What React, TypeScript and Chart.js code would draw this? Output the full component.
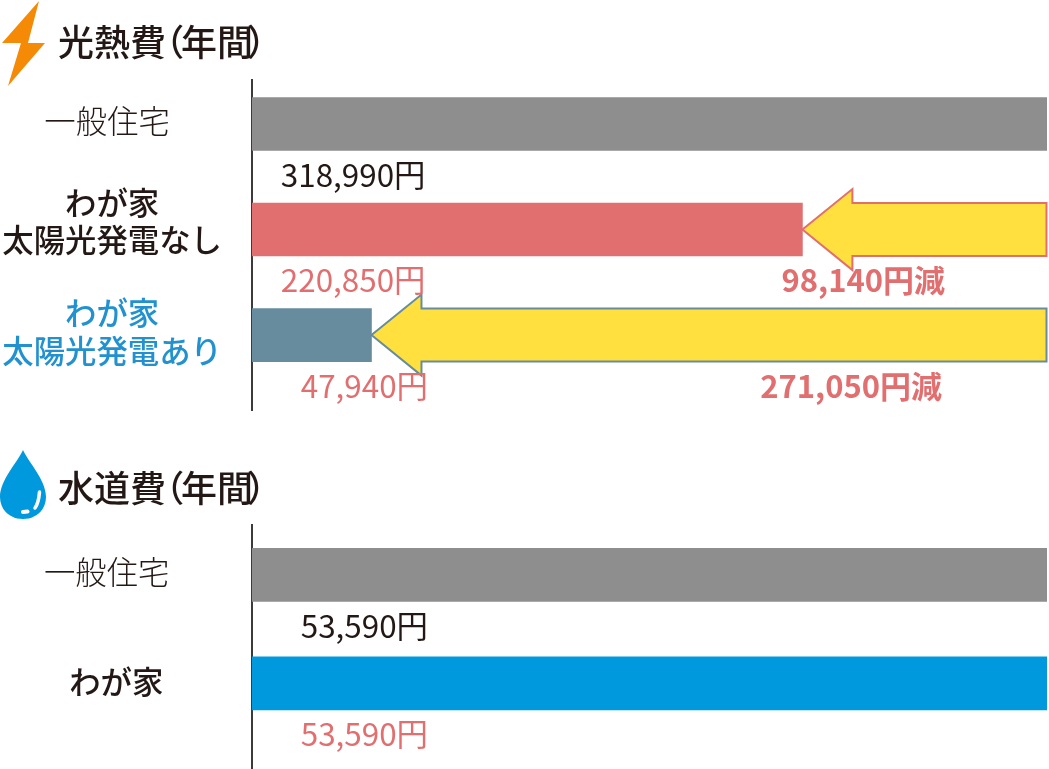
import React, { useEffect, useRef } from "react";
import { Chart, registerables } from "chart.js";

Chart.register(...registerables);

const FONT = "'Noto Sans CJK JP', 'Noto Sans CJK SC', sans-serif";

// 光熱費
const energyLabels: (string | string[])[] = ["一般住宅", ["わが家", "太陽光発電なし"], ["わが家", "太陽光発電あり"]];
const energyPositions = [0, 1, 2];
const energyValues = [318990, 220850, 47940];
const energyText = ["318,990円", "220,850円", "47,940円"];
const energySavingText = ["", "98,140円減", "271,050円減"];
const energyColors = ["#8E8E8E", "#E26F6F", "#668C9D"];
const energyTickColors = ["#231815", "#231815", "#2291D0"];
const energyTextColors = ["#231815", "#E26F6F", "#E26F6F"];
const energyBold = [false, true, true];

// 水道費
const waterLabels: string[] = ["一般住宅", "わが家"];
const waterPositions = [0, 1];
const waterValues = [53590, 53590];
const waterText = ["53,590円", "53,590円"];
const waterColors = ["#8E8E8E", "#0099DD"];
const waterTickColors = ["#231815", "#231815"];
const waterTextColors = ["#231815", "#E26F6F"];
const waterBold = [false, true];

type Spec = {
  labels: (string | string[])[];
  positions: number[];
  values: number[];
  text: string[];
  saving: string[];
  colors: string[];
  tickColors: string[];
  textColors: string[];
  bold: boolean[];
  yMin: number;
  yMax: number;
  tickInset: number;
  padTop: number;
  padBottom: number;
  arrows: boolean;
  tickShift: number[][];
  valueRight: number[];
};

const SAVING_RIGHT = [0, 945, 942];

const overlay = (spec: Spec) => ({
  id: "overlay",
  beforeDraw(chart: any) {
    // nudge the axis' own labels to their places
    const items = chart.scales.y.getLabelItems(chart.chartArea);
    items.forEach((item: any, i: number) => {
      const s = spec.tickShift[i];
      item.options.translation = [item.options.translation[0] + s[0], item.options.translation[1] + s[1]];
    });
  },
  afterDatasetsDraw(chart: any) {
    const { ctx, scales } = chart;
    const x = scales.x;
    const y = scales.y;
    ctx.save();
    // arrows, from each bar's end to the reference value
    if (spec.arrows) {
      spec.values.forEach((v, i) => {
        if (v >= x.max) return;
        const tip = x.getPixelForValue(v);
        const end = x.getPixelForValue(x.max);
        const c = y.getPixelForValue(spec.positions[i]);
        const headLen = 50;
        const half = 26.5;
        const headHalf = 40.5;
        ctx.beginPath();
        ctx.moveTo(tip, c);
        ctx.lineTo(tip + headLen, c - headHalf);
        ctx.lineTo(tip + headLen, c - half);
        ctx.lineTo(end - 0.5, c - half);
        ctx.lineTo(end - 0.5, c + half);
        ctx.lineTo(tip + headLen, c + half);
        ctx.lineTo(tip + headLen, c + headHalf);
        ctx.closePath();
        ctx.fillStyle = "#FFE03F";
        ctx.fill();
        ctx.strokeStyle = spec.colors[i];
        ctx.lineWidth = 2;
        ctx.lineJoin = "miter";
        ctx.stroke();
      });
    }
    ctx.textBaseline = "middle";
    ctx.textAlign = "right";
    spec.text.forEach((t, i) => {
      const c = y.getPixelForValue(spec.positions[i]);
      ctx.font = `400 31.4px ${FONT}`;
      ctx.fillStyle = spec.textColors[i];
      ctx.fillText(t, spec.valueRight[i], c + 51);
      if (spec.saving[i]) {
        ctx.font = `700 31px ${FONT}`;
        ctx.fillStyle = "#E26F6F";
        ctx.fillText(spec.saving[i], SAVING_RIGHT[i], c + 51);
      }
    });
    ctx.restore();
  },
});

function Bars({ spec, top, height }: { spec: Spec; top: number; height: number }) {
  const ref = useRef<HTMLCanvasElement>(null);
  useEffect(() => {
    const chart = new Chart(ref.current!, {
      type: "bar",
      data: {
        datasets: [
          {
            data: spec.values.map((v, i) => ({ x: v, y: spec.positions[i] })),
            backgroundColor: spec.colors,
            barThickness: 53,
            borderWidth: 0,
          } as any,
        ],
      },
      options: {
        indexAxis: "y",
        animation: false,
        responsive: false,
        layout: { padding: { top: spec.padTop, bottom: spec.padBottom, left: 0, right: 2 } },
        plugins: { legend: { display: false }, tooltip: { enabled: false }, title: { display: false } },
        scales: {
          x: { type: "linear", display: false, min: 0, max: spec.values[0], grid: { display: false } },
          y: {
            type: "linear",
            reverse: true,
            offset: false,
            min: spec.yMin,
            max: spec.yMax,
            grid: { display: false, offset: false, drawTicks: false, tickLength: 0 },
            border: { display: true, color: "#3E3A39", width: 2 },
            afterBuildTicks: (s: any) => {
              s.ticks = spec.positions.map((v) => ({ value: v }));
            },
            afterFit: (s: any) => {
              s.width = 252;
              s.paddingTop = 0;
              s.paddingBottom = 0;
            },
            ticks: {
              autoSkip: false,
              crossAlign: "center",
              padding: spec.tickInset,
              callback: (v: any) => spec.labels[v as number] as any,
              color: (c: any) => spec.tickColors[c.index],
              font: (c: any) => ({
                family: FONT,
                size: 31.4,
                weight: spec.bold[c.index] ? 500 : 300,
                lineHeight: 1.185,
              }),
            },
          } as any,
        },
      },
      plugins: [overlay(spec)],
    } as any);
    return () => chart.destroy();
  }, []);
  return (
    <canvas
      ref={ref}
      width={1049}
      height={height}
      style={{ position: "absolute", left: 0, top, width: 1049, height, display: "block" }}
    />
  );
}

const energySpec: Spec = {
  labels: energyLabels,
  positions: energyPositions,
  values: energyValues,
  text: energyText,
  saving: energySavingText,
  colors: energyColors,
  tickColors: energyTickColors,
  textColors: energyTextColors,
  bold: energyBold,
  yMin: -0.417,
  yMax: 2.71,
  tickInset: 30,
  padTop: 80,
  padBottom: 20,
  arrows: true,
  tickShift: [[-5, -3], [0, -8], [0, -3]],
  valueRight: [425.5, 425.5, 428],
};

const waterSpec: Spec = {
  labels: waterLabels,
  positions: waterPositions,
  values: waterValues,
  text: waterText,
  saving: ["", ""],
  colors: waterColors,
  tickColors: waterTickColors,
  textColors: waterTextColors,
  bold: waterBold,
  yMin: -0.46,
  yMax: 1.78,
  tickInset: 83,
  padTop: 95,
  padBottom: 1,
  arrows: false,
  tickShift: [[0.5, -3], [10, -1]],
  valueRight: [428, 428],
};

const titleStyle: React.CSSProperties = {
  position: "absolute",
  left: 58,
  fontFamily: FONT,
  fontSize: 36,
  fontWeight: 500,
  lineHeight: "44px",
  color: "#231815",
  fontFeatureSettings: '"palt"',
  whiteSpace: "nowrap",
};

const Paren = ({ open }: { open: boolean }) => (
  <span style={open ? { marginLeft: -1, marginRight: -2 } : { marginLeft: -5 }}>{open ? "\uFF08" : "\uFF09"}</span>
);

export default function App() {
  return (
    <div style={{ position: "absolute", left: 0, top: 0, width: 1049, height: 769, background: "#fff", overflow: "hidden" }}>
      <Bars spec={energySpec} top={0} height={430} />
      <Bars spec={waterSpec} top={430} height={339} />
      <svg style={{ position: "absolute", left: 0, top: 0 }} width={60} height={530}>
        <polygon points="39,1 2,43 21,43 8,86 45,43 28,43" fill="#F58A07" />
        <path
          d="M23,450 C17,463 0,480 0,497 C0,510 10,519 23,519 C36,519 46,510 46,497 C46,480 29,463 23,450 Z"
          fill="#0099DD"
        />
        <path d="M39.5,492 C39,498 38,504 35,508" stroke="#fff" strokeWidth={3.5} strokeLinecap="round" fill="none" />
        <path d="M23,512 L27.5,511.5" stroke="#fff" strokeWidth={4} strokeLinecap="round" fill="none" />
      </svg>
      <div style={{ ...titleStyle, top: 18 }}>光熱費<Paren open={true} />年間<Paren open={false} /></div>
      <div style={{ ...titleStyle, top: 464 }}>水道費<Paren open={true} />年間<Paren open={false} /></div>
    </div>
  );
}
